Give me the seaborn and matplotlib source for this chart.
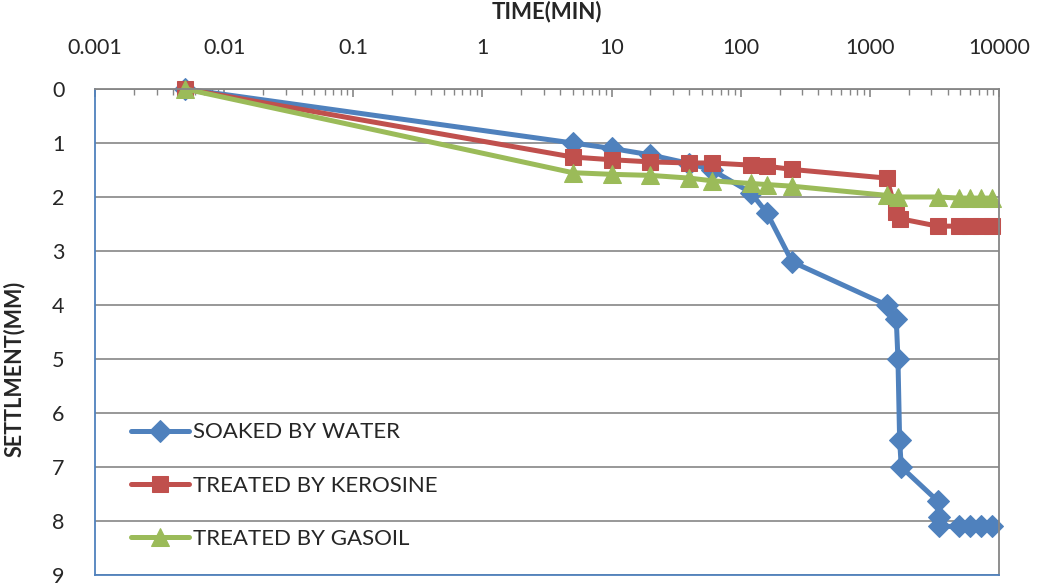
import numpy as np
import pandas as pd
import matplotlib
matplotlib.use('Agg')
import matplotlib.pyplot as plt
import seaborn as sns
from matplotlib.ticker import LogLocator, FixedLocator, FuncFormatter

# Data
water_time = [0.005, 5, 10, 20, 40, 60, 120, 160, 250, 1350, 1600, 1650, 1700, 1750,
              3350, 3400, 3450, 4900, 6000, 7200, 8900]
water_settle = [0, 1.0, 1.1, 1.22, 1.38, 1.5, 1.92, 2.3, 3.2, 4.0, 4.25, 5.0, 6.5, 7.0,
                7.63, 7.93, 8.1, 8.1, 8.1, 8.1, 8.1]

kero_time = [0.005, 5, 10, 20, 40, 60, 120, 160, 250, 1350, 1600, 1700,
             3350, 4900, 6000, 7200, 8900]
kero_settle = [0, 1.26, 1.31, 1.35, 1.37, 1.37, 1.41, 1.43, 1.49, 1.65, 2.28, 2.4,
               2.54, 2.54, 2.54, 2.54, 2.54]

gas_time = [0.005, 5, 10, 20, 40, 60, 120, 160, 250, 1350, 1650,
            3350, 4900, 6000, 7200, 8900]
gas_settle = [0, 1.55, 1.58, 1.6, 1.65, 1.7, 1.75, 1.77, 1.8, 1.97, 2.0,
              2.0, 2.02, 2.02, 2.02, 2.02]

series_names = ['SOAKED BY WATER', 'TREATED BY KEROSINE', 'TREATED BY GASOIL']
colors = ['#4F81BD', '#C0504D', '#9BBB59']
markers = ['D', 's', '^']
marker_sizes = [11, 12, 13]

sns.set_style('white')
plt.rcParams['font.family'] = ['Lato', 'DejaVu Sans']

fig, ax = plt.subplots(figsize=(10.4, 5.87), dpi=100)
fig.subplots_adjust(left=0.0913, right=0.9606, top=0.8484, bottom=0.0204)

data = [(water_time, water_settle), (kero_time, kero_settle), (gas_time, gas_settle)]
for (t, s), name, c, m, ms in zip(data, series_names, colors, markers, marker_sizes):
    df = pd.DataFrame({'time': t, 'settle': s})
    sns.lineplot(data=df, x='time', y='settle', ax=ax, color=c, marker=m,
                 markersize=ms, markeredgecolor=c, linewidth=3.6, sort=False,
                 estimator=None, label=name, clip_on=False)

ax.set_xscale('log')
ax.set_xlim(0.001, 10000)
ax.set_ylim(9, 0)
ax.set_yticks(range(0, 10))

# x axis on top
ax.xaxis.tick_top()
ax.xaxis.set_label_position('top')
ax.xaxis.set_major_locator(FixedLocator([0.001, 0.01, 0.1, 1, 10, 100, 1000, 10000]))
ax.xaxis.set_minor_locator(LogLocator(base=10, subs=np.arange(2, 10), numticks=20))
ax.xaxis.set_major_formatter(FuncFormatter(lambda v, p: f'{v:g}' if v < 1 else f'{int(v)}'))
ax.xaxis.set_minor_formatter(FuncFormatter(lambda v, p: ''))
ax.tick_params(axis='x', which='major', direction='in', length=6, width=1.2,
               color='#868686', labelsize=15.5, pad=22)
ax.tick_params(axis='x', which='minor', direction='in', length=4, width=1.0,
               color='#868686')
ax.tick_params(axis='y', which='major', length=0, labelsize=15.5, pad=22)

ax.yaxis.grid(True, color='#868686', linewidth=1.2)
ax.xaxis.grid(False)
ax.set_axisbelow(True)

for side in ['top', 'right']:
    ax.spines[side].set_color('#868686')
    ax.spines[side].set_linewidth(1.3)
for side in ['left', 'bottom']:
    ax.spines[side].set_color('#4F81BD')
    ax.spines[side].set_linewidth(1.3)

ax.set_xlabel('TIME(MIN)', fontsize=16, fontweight='bold')
ax.set_ylabel('SETTLMENT(MM)', fontsize=15.5, fontweight='bold')
ax.xaxis.set_label_coords(0.5, 1.145)
ax.yaxis.set_label_coords(-0.078, 0.425)

ax.legend(loc='lower left', bbox_to_anchor=(0.03, 0.035), frameon=False,
          fontsize=16, handlelength=2.6, handletextpad=0.2, labelspacing=1.5,
          borderaxespad=0)

fig.savefig('out.png', dpi=100)
